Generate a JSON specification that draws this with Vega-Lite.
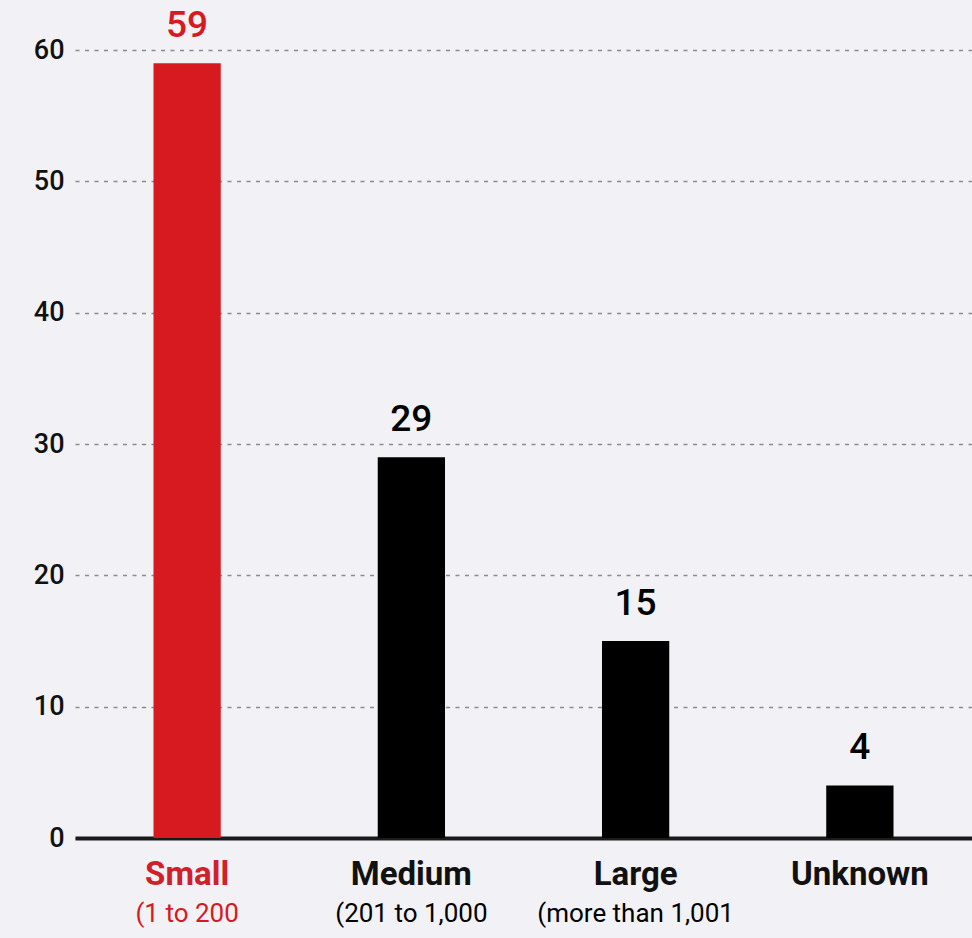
{
  "$schema": "https://vega.github.io/schema/vega-lite/v6.json",
  "width": 897,
  "height": 788,
  "autosize": "none",
  "padding": {"left": 75, "top": 50, "right": 0, "bottom": 100},
  "background": "#f2f2f6",
  "config": {
    "view": {"stroke": null},
    "font": "Roboto"
  },
  "data": {
    "values": [
      {"size": "Small", "range": "(1 to 200", "count": 59, "highlight": true},
      {"size": "Medium", "range": "(201 to 1,000", "count": 29, "highlight": false},
      {"size": "Large", "range": "(more than 1,001", "count": 15, "highlight": false},
      {"size": "Unknown", "range": "", "count": 4, "highlight": false}
    ]
  },
  "encoding": {
    "x": {
      "field": "size",
      "type": "nominal",
      "sort": null,
      "scale": {"paddingInner": 0.7, "paddingOuter": 0.35},
      "axis": {
        "title": null,
        "labelAngle": 0,
        "labelFont": "Roboto",
        "labelFontSize": 33,
        "labelFontWeight": "bold",
        "labelColor": {"condition": {"test": "datum.value === 'Small'", "value": "#d0202a"}, "value": "#111111"},
        "labelPadding": 20,
        "ticks": false,
        "domainColor": "#1a1a1a",
        "domainWidth": 4
      }
    },
    "color": {
      "field": "highlight",
      "type": "nominal",
      "scale": {"domain": [true, false], "range": ["#d71920", "#000000"]},
      "legend": null
    }
  },
  "layer": [
    {
      "mark": {"type": "bar"},
      "encoding": {
        "y": {
          "field": "count",
          "type": "quantitative",
          "scale": {"domain": [0, 60]},
          "axis": {
            "title": null,
            "values": [0, 10, 20, 30, 40, 50, 60],
            "labelFont": "Roboto",
            "labelFontSize": 27,
            "labelFontWeight": 500,
            "labelColor": "#111111",
            "labelPadding": 11,
            "ticks": false,
            "domain": false,
            "grid": true,
            "gridColor": "#8c8c8c",
            "gridDash": [4, 5.5],
            "gridWidth": 1.5
          }
        }
      }
    },
    {
      "mark": {"type": "text", "baseline": "alphabetic", "dy": -26, "fontSize": 37, "fontWeight": 500, "font": "Roboto"},
      "encoding": {
        "y": {"field": "count", "type": "quantitative"},
        "text": {"field": "count", "type": "quantitative"}
      }
    },
    {
      "mark": {"type": "text", "baseline": "middle", "dy": 76, "fontSize": 26, "font": "Roboto", "fontWeight": 400, "clip": false},
      "encoding": {
        "y": {"datum": 0, "type": "quantitative"},
        "text": {"field": "range", "type": "nominal"}
      }
    }
  ]
}
